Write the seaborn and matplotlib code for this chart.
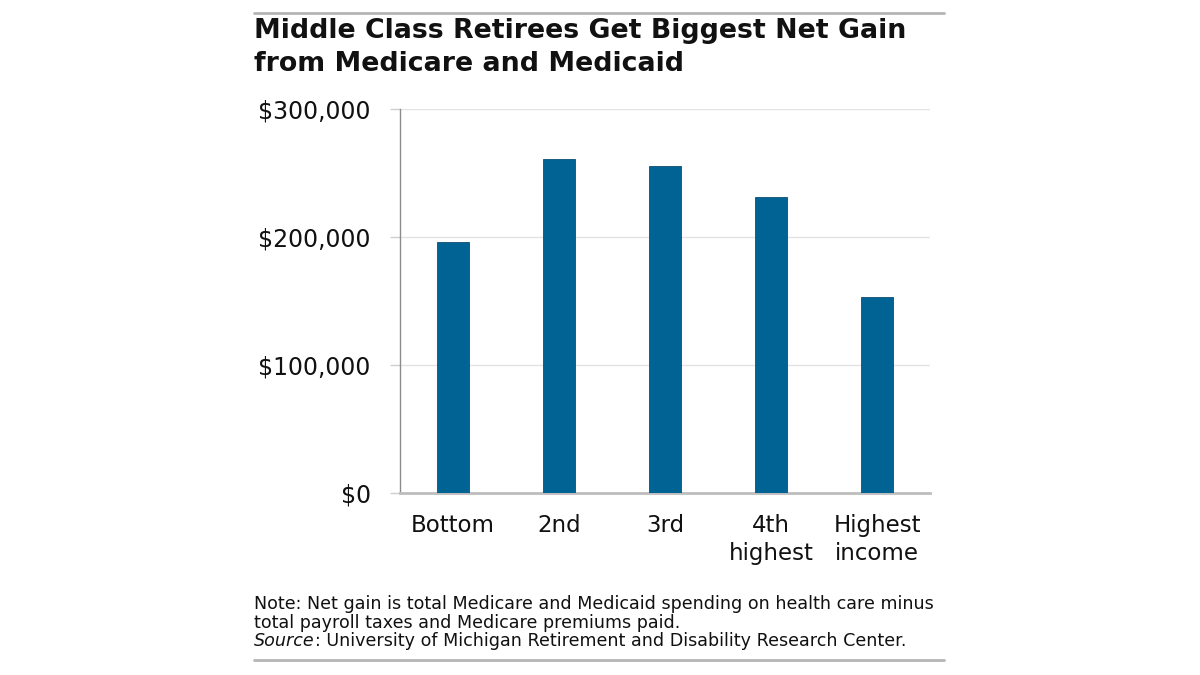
import matplotlib
matplotlib.use("Agg")
import matplotlib.pyplot as plt
import matplotlib.ticker as mticker
import seaborn as sns
import pandas as pd

# chart data
categories = ["Bottom", "2nd", "3rd", "4th\nhighest", "Highest\nincome"]
net_gain = [196000, 261000, 255500, 231000, 153000]
y_ticks = [0, 100000, 200000, 300000]

title_lines = ["Middle Class Retirees Get Biggest Net Gain", "from Medicare and Medicaid"]
note_lines = ["Note: Net gain is total Medicare and Medicaid spending on health care minus",
              "total payroll taxes and Medicare premiums paid."]
source_rest = ": University of Michigan Retirement and Disability Research Center."

BAR_COLOR = "#006394"
TEXT_COLOR = "#111111"


def fy(px):
    """pixel row (from the top) to figure fraction"""
    return 1 - px / 675


def main():
    sns.set_theme(style="white")
    plt.rcParams["font.family"] = ["DejaVu Sans"]

    df = pd.DataFrame({"group": categories, "gain": net_gain})

    fig = plt.figure(figsize=(12, 6.75), dpi=100)
    ax = fig.add_axes([400 / 1200, fy(493), 530 / 1200, 384 / 675])

    sns.barplot(data=df, x="group", y="gain", color=BAR_COLOR, width=0.31,
                edgecolor="#0b4f73", linewidth=0.6, saturation=1, ax=ax, zorder=3)

    ax.set_xlim(-0.5, len(categories) - 0.5)
    ax.set_ylim(0, 300000)
    ax.set_yticks(y_ticks)
    ax.yaxis.set_major_formatter(mticker.FuncFormatter(lambda v, _: f"${v:,.0f}"))
    ax.set_xlabel("")
    ax.set_ylabel("")

    ax.grid(axis="y", color="#e3e3e3", linewidth=1, zorder=0)
    ax.grid(axis="x", visible=False)
    for side in ["top", "right"]:
        ax.spines[side].set_visible(False)
    ax.spines["left"].set_color("#8c8c8c")
    ax.spines["left"].set_linewidth(1)
    ax.spines["bottom"].set_color("#bdbdbd")
    ax.spines["bottom"].set_linewidth(2)

    ax.tick_params(axis="y", which="major", direction="out", length=7, width=1,
                   color="#cfcfcf", labelsize=17, labelcolor=TEXT_COLOR, pad=14, left=True)
    ax.tick_params(axis="x", length=0, labelsize=16.5, labelcolor=TEXT_COLOR, pad=15)
    for lbl in ax.get_xticklabels():
        lbl.set_linespacing(1.3)

    # header and footer rules
    for row in (13, 660):
        fig.add_artist(plt.Line2D([254 / 1200, 944 / 1200], [fy(row), fy(row)],
                                  color="#b5b5b5", linewidth=2))

    for i, line in enumerate(title_lines):
        fig.text(254 / 1200, fy(31 + i * 33), line, ha="left", va="center",
                 fontsize=19.3, fontweight="bold", color=TEXT_COLOR)

    for i, line in enumerate(note_lines):
        fig.text(254 / 1200, fy(604 + i * 18.5), line, ha="left", va="center",
                 fontsize=12.6, color=TEXT_COLOR)
    src = fig.text(254 / 1200, fy(641), "Source", ha="left", va="center",
                   fontsize=12.6, style="italic", color=TEXT_COLOR)
    fig.canvas.draw()
    bb = src.get_window_extent()
    fig.text(bb.x1 / 1200, fy(641), source_rest, ha="left", va="center",
             fontsize=12.6, color=TEXT_COLOR)

    fig.savefig("out.png", dpi=100)
    plt.close(fig)


if __name__ == "__main__":
    main()
